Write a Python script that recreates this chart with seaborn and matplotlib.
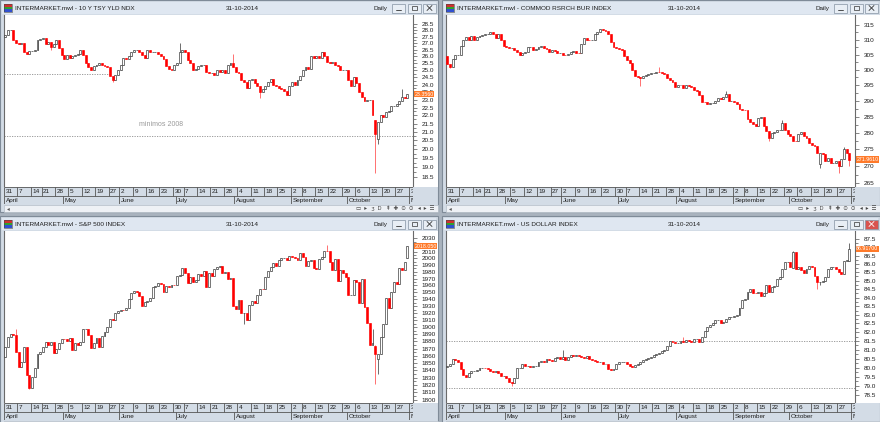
import numpy as np
import pandas as pd
import matplotlib
matplotlib.use("Agg")
import matplotlib.pyplot as plt
import matplotlib.transforms as mtrans
from matplotlib.patches import Rectangle
from matplotlib.ticker import FixedLocator, FixedFormatter, NullFormatter
import seaborn as sns

# ---------------------------------------------------------------- data
trading_start = "2014-03-31"
axis_end = "2014-11-03"
market_holidays = ["2014-04-18", "2014-05-26", "2014-07-04", "2014-09-01"]

week_labels = ["31", "7", "14", "21", "28", "5", "12", "19", "27", "2", "9", "16",
               "23", "30", "7", "14", "21", "28", "4", "11", "18", "25", "2", "8",
               "15", "22", "29", "6", "13", "20", "27", "3"]
month_labels = ["April", "May", "June", "July", "August", "September", "October", "N"]
chart_date = "31-10-2014"
period_label = "Daily"

# 10 Y TSY YLD NDX
tsy_title = "INTERMARKET.mwl - 10 Y TSY YLD NDX"
tsy_first_open = 27.45
tsy_close = [
    27.6, 28.0, 28.0, 27.24, 27.0, 26.95, 27.0, 26.35, 26.2, 26.4,
    26.4, 26.5, 27.24, 27.3, 27.4, 26.9, 27.1, 26.7, 26.9, 27.2,
    26.6, 26.1, 25.8, 26.1, 25.9, 26.0, 26.1, 26.2, 26.5, 26.1,
    25.5, 25.2, 25.0, 25.3, 25.4, 25.5, 25.4, 25.3, 25.2, 24.6,
    24.3, 24.7, 25.0, 25.4, 25.9, 25.8, 26.0,
    26.3, 26.5, 26.5, 26.3, 26.1, 25.9, 26.5, 26.3, 26.3, 26.3, 26.2, 26.0, 25.8, 25.3,
    25.1, 25.0, 25.4, 25.5, 26.3, 26.5, 26.3, 25.7, 25.5, 25.0, 25.1, 25.3, 25.4, 25.4,
    24.9, 24.8,
    24.8, 24.7, 25.0, 24.9, 25.0, 24.8, 25.4, 25.5, 25.2, 24.9, 24.8,
    24.3, 24.2, 23.8, 24.3,
    24.4, 24.1, 23.9, 23.5, 23.7, 23.9, 24.2, 24.4, 24.0, 23.9, 23.8, 23.7, 23.6, 23.3,
    23.9, 24.2, 24.0, 24.3, 24.6, 25.0, 25.2, 25.1, 26.0, 25.9, 26.0, 25.9, 26.3, 26.0,
    25.6, 25.5, 25.6, 25.4, 25.3, 25.0, 25.0, 25.0, 24.3, 23.9, 24.5, 24.1, 23.5, 23.2,
    22.9, 23.0, 23.0, 22.0, 20.9, 21.6, 22.0, 21.9, 22.2, 22.3, 22.6, 22.6, 22.7, 22.9,
    23.2, 23.1, 23.356]
tsy_open_fix = {138: 21.7, 139: 20.6}
tsy_high_fix = {65: 27.0, 85: 26.2, 137: 22.4, 148: 23.7}
tsy_low_fix = {17: 26.5, 40: 24.2, 95: 23.1, 138: 18.7, 139: 20.3}
tsy_ticks = [18.5, 19.0, 19.5, 20.0, 20.5, 21.0, 21.5, 22.0, 22.5, 23.0, 23.5, 24.0,
             24.5, 25.0, 25.5, 26.0, 26.5, 27.0, 27.5, 28.0, 28.5]
tsy_last = "23.3560"
tsy_note = "minimos 2008"
tsy_note_level = 20.74
tsy_old_level = 24.74

# COMMOD RSRCH BUR INDEX
crb_title = "INTERMARKET.mwl - COMMOD RSRCH BUR INDEX"
crb_first_open = 304.5
crb_close = [
    302, 301, 303.5, 305, 305, 308, 310, 311, 310, 311.3, 310, 311, 311.3, 311.5, 311.8,
    312, 312.5, 311.8, 310.7, 312, 310, 307.8, 307.5, 307.3, 307.3, 306.5, 305.8, 305,
    305.5, 306, 307.5, 307.7, 306.5, 307,
    307.5, 308, 307.3, 307, 306, 306.5, 306.3, 305.5, 305.6, 305, 304.9, 305.2, 305.8,
    306.2, 305.6, 305.5, 308.5, 310.5, 310, 309.8, 310, 312, 312.8, 313.5, 313.3,
    312.9, 312, 309.3, 307.5, 307.3, 306.8, 306.7, 304.5, 303.3, 302.3, 299.8, 297.8,
    297.7, 297.4, 297.9, 298.2, 298.7, 299, 299, 299.3, 299.2, 298.8, 298.5, 297.3,
    296.8, 296, 294.3, 294.9, 295, 294, 295, 294.8,
    294.5, 293.5, 293, 291.8, 289.7, 289.5, 289,
    289.2, 289.4, 290, 291, 290.6, 291.3, 292.3, 290, 290, 289.5, 289, 287.5, 287.2,
    287, 284.3, 283.2, 282.6, 282, 284.5, 284.8, 282, 280.5, 278.5, 280, 280.3, 281,
    281, 283, 280.8, 279.6, 279, 277.6, 277.4, 279.8, 280.3, 278.9, 278.3, 277, 276.3,
    276, 273.8, 274, 273.5, 271.5, 272.5, 271, 271, 271.5, 270, 272, 275, 274, 271.961]
crb_open_fix = {139: 270.5}
crb_high_fix = {79: 301, 104: 293, 125: 284, 138: 275.5, 148: 275.8, 150: 273}
crb_low_fix = {1: 300.5, 72: 294.8, 120: 277.5, 139: 269.5, 146: 268, 150: 270}
crb_ticks = [265, 270, 275, 280, 285, 290, 295, 300, 305, 310, 315]
crb_last = "271.9610"

# S&P 500 INDEX
spx_title = "INTERMARKET.mwl - S&P 500 INDEX"
spx_first_open = 1858.0
spx_close = [
    1872.3,
    1885.5, 1890.9, 1888.8, 1865.1, 1845.0, 1852.0, 1872.2, 1833.1, 1815.7, 1830.6,
    1843.0, 1862.3, 1864.9, 1871.9, 1879.6, 1875.4, 1878.6, 1863.4, 1869.4, 1878.3, 1884.0,
    1883.7, 1881.1, 1884.7, 1867.7, 1878.2, 1875.6, 1878.5, 1896.7, 1897.5, 1888.5,
    1870.9, 1877.9, 1885.1, 1872.8, 1888.0, 1892.5, 1900.5, 1911.9, 1909.8, 1920.0, 1923.6,
    1925.0, 1924.2, 1927.9, 1940.5, 1949.4, 1951.3, 1950.8, 1943.9, 1930.1, 1936.2,
    1937.8, 1942.0, 1957.0, 1959.5, 1962.9, 1962.6, 1950.0, 1959.5, 1957.2, 1961.0, 1960.2,
    1973.3, 1974.6, 1985.4, 1977.7, 1963.7, 1972.8, 1964.7, 1967.6, 1977.1, 1973.3,
    1981.6, 1958.1, 1978.2, 1973.6, 1983.5, 1987.0, 1988.0, 1978.3, 1978.9, 1970.0,
    1970.1, 1930.7,
    1925.2, 1939.0, 1920.2, 1920.2, 1909.6, 1931.6, 1936.9, 1933.8, 1946.7, 1955.2,
    1955.1, 1971.7, 1981.6, 1986.5, 1992.4, 1988.4, 1997.9, 2000.0, 2000.1, 1996.7, 2003.4,
    2002.3, 2000.7, 1997.7, 2007.7, 2001.5, 1988.4, 1995.7, 1997.5, 1985.5, 1984.1,
    1999.0, 2001.6, 2011.4, 2010.4, 1994.3, 1982.8, 1998.3, 1966.0, 1982.9, 1977.8, 1972.3,
    1946.2, 1946.2, 1967.9, 1964.8, 1935.1, 1968.9, 1928.2, 1906.1, 1874.7, 1877.7,
    1862.5, 1862.8, 1886.8, 1904.0, 1941.3, 1927.1, 1950.8, 1964.6, 1961.6, 1985.1,
    1982.3, 1994.7, 2018.05]
spx_open_fix = {138: 1874.0, 139: 1855.0, 150: 2001.0}
spx_high_fix = {4: 1897, 8: 1872.5, 120: 2019.3, 134: 1970, 137: 1898, 138: 1874.5, 150: 2018.7}
spx_low_fix = {9: 1814, 89: 1904, 138: 1820.7, 139: 1835}
spx_ticks = [1800, 1810, 1820, 1830, 1840, 1850, 1860, 1870, 1880, 1890, 1900, 1910,
             1920, 1930, 1940, 1950, 1960, 1970, 1980, 1990, 2000, 2010, 2020, 2030]
spx_last = "2018.050"

# US DOLLAR INDEX
usd_title = "INTERMARKET.mwl - US DOLLAR INDEX"
usd_first_open = 80.05
usd_close = [
    80.1, 80.2, 80.5, 80.4, 80.3, 79.9, 79.6, 79.45,
    79.7, 79.8, 79.8, 79.85, 79.95, 80.0, 79.95, 79.9, 79.8,
    79.75, 79.8, 79.7, 79.55, 79.55, 79.4, 79.2, 79.15,
    79.4, 80.0, 80.0, 80.2, 80.1, 80.1, 80.05, 80.1, 80.1,
    80.3, 80.35, 80.3, 80.5, 80.45, 80.35, 80.55, 80.6, 80.5,
    80.6, 80.45, 80.6, 80.7, 80.65, 80.7, 80.65, 80.6, 80.55, 80.65,
    80.5, 80.45, 80.35, 80.3, 80.3, 80.2, 80.2, 79.9, 79.85,
    79.9, 80.2, 80.3, 80.3, 80.3, 80.2, 80.1, 80.05, 80.15, 80.2,
    80.3, 80.45, 80.5, 80.55, 80.6, 80.7, 80.75, 80.8, 80.95, 81.0,
    81.2, 81.5, 81.45, 81.4, 81.4, 81.5, 81.45, 81.55, 81.5,
    81.45, 81.6, 81.6, 81.45, 81.7, 82.05, 82.3, 82.4, 82.5,
    82.7, 82.7, 82.55, 82.6, 82.75, 82.85, 82.9, 82.95, 83.0,
    83.4, 83.85, 83.9, 84.35, 84.5, 84.3, 84.25, 84.35, 84.1, 84.3,
    84.75, 84.35, 84.65, 84.7, 85.1, 85.2, 85.7, 86.1, 86.1, 85.8,
    86.7, 85.7, 85.8, 85.65, 85.45, 85.7, 85.9, 85.8, 85.3, 84.9,
    84.9, 85.0, 85.2, 85.7, 85.8, 85.8, 85.7, 85.5, 85.4, 86.15, 86.25, 86.917]
usd_open_fix = {129: 85.75, 150: 86.15}
usd_high_fix = {43: 81.0, 88: 81.7, 129: 86.8, 150: 87.25}
usd_low_fix = {24: 78.95, 138: 84.5, 139: 84.75}
usd_ticks = [78.5, 79.0, 79.5, 80.0, 80.5, 81.0, 81.5, 82.0, 82.5, 83.0, 83.5, 84.0,
             84.5, 85.0, 85.5, 86.0, 86.5, 87.0, 87.5]
usd_last = "86.91700"
usd_levels = [81.5, 78.85]

# ---------------------------------------------------------------- style
sns.set_theme(style="white")
plt.rcParams["font.family"] = ["Liberation Sans", "DejaVu Sans"]

W, H = 880, 422
fig = plt.figure(figsize=(W / 100, H / 100), dpi=100)
fig.patch.set_facecolor("#a9b3be")

bg = fig.add_axes([0, 0, 1, 1], zorder=-10)
bg.set_xlim(0, W)
bg.set_ylim(H, 0)
bg.axis("off")

def px_axes(x0, y0, w, h, **kw):
    return fig.add_axes([x0 / W, 1 - (y0 + h) / H, w / W, h / H], **kw)

days = pd.bdate_range(trading_start, axis_end)
days = days[~days.isin(pd.to_datetime(market_holidays))]
isow = days.isocalendar().week.values
week_pos = [0] + [i for i in range(1, len(days)) if isow[i] != isow[i - 1]]
month_pos = [i for i in range(1, len(days)) if days[i].month != days[i - 1].month]
XL = (-0.5, 152.1)

TXT = "#1e1e1e"
FS = 4.6


def draw_window(ox, oy, title, first_open, closes, open_fix, high_fix, low_fix,
                ylim, ticks, fmt, last_label, red_close=False):
    # window chrome
    bg.add_patch(Rectangle((ox, oy), 438, 212, fc="#d3dce6", ec="#7f8b98", lw=0.8))
    bg.add_patch(Rectangle((ox + 2, oy + 2), 434, 12, fc="#dfe7f1", ec="none"))
    bg.add_patch(Rectangle((ox + 4, oy + 15), 434, 172, fc="white", ec="none"))
    bg.add_patch(Rectangle((ox + 4, oy + 205), 434, 7, fc="#eef1f5", ec="#b5bec8", lw=0.5))
    # icon
    for k, colr in enumerate(["#d03030", "#30a030", "#3050d0"]):
        bg.add_patch(Rectangle((ox + 4, oy + 4 + k * 2.6), 8, 2.6, fc=colr, ec="none"))
    bg.add_patch(Rectangle((ox + 4, oy + 4), 8, 7.8, fc="none", ec="#444", lw=0.4))
    bg.text(ox + 15, oy + 8.2, title, fontsize=FS, color=TXT, va="center", ha="left")
    bg.text(ox + 242, oy + 8.2, chart_date, fontsize=FS, color=TXT, va="center", ha="center")
    bg.text(ox + 381, oy + 8.2, period_label, fontsize=FS, color=TXT, va="center", ha="center")
    for k, bx in enumerate([392, 408, 423]):
        face = "#d9534f" if (red_close and k == 2) else "#e8eef5"
        bg.add_patch(Rectangle((ox + bx, oy + 3.5), 13, 9, fc=face, ec="#8492a2", lw=0.5))
    bg.plot([ox + 396, ox + 401], [oy + 9.5, oy + 9.5], color="#333", lw=0.6)
    bg.add_patch(Rectangle((ox + 412, oy + 5.5), 5, 4.5, fc="none", ec="#333", lw=0.5))
    xc = "white" if red_close else "#333"
    bg.plot([ox + 427, ox + 432], [oy + 5.5, oy + 10.5], color=xc, lw=0.6)
    bg.plot([ox + 427, ox + 432], [oy + 10.5, oy + 5.5], color=xc, lw=0.6)
    if oy < 100:
        bg.text(ox + 7, oy + 208.5, "\u25c2", fontsize=4, color="#555", va="center")
        bg.text(ox + 434, oy + 208.5,
                "\u25ad  \u25b8   \u0292  D   \u21de  \u271a  \u2299  \u2299   \u25c2  \u25b8  \u2630",
                fontsize=4, color="#444", va="center", ha="right")

    # candles
    c = np.asarray(closes, dtype=float)
    n = len(c)
    o = np.empty(n)
    o[0] = first_open
    o[1:] = c[:-1]
    for k, v in open_fix.items():
        o[k] = v
    h = np.maximum(o, c)
    l = np.minimum(o, c)
    for k, v in high_fix.items():
        h[k] = max(h[k], v)
    for k, v in low_fix.items():
        l[k] = min(l[k], v)
    x = np.arange(n)
    up = c >= o

    ax = px_axes(ox + 4, oy + 15, 409, 171)
    ax.set_facecolor("white")
    ax.set_yscale("log")
    ax.vlines(x[up], l[up], h[up], colors="#555555", lw=0.6, zorder=2)
    ax.vlines(x[~up], l[~up], h[~up], colors="#ff5a5a", lw=0.6, zorder=2)
    ax.bar(x[up], (c - o)[up], bottom=o[up], width=0.72, facecolor="white",
           edgecolor="#2a2a2a", linewidth=0.45, zorder=3)
    ax.bar(x[~up], (o - c)[~up], bottom=c[~up], width=0.72, facecolor="#ff0000",
           edgecolor="#ff0000", linewidth=0.45, zorder=3)
    ax.set_xlim(*XL)
    ax.set_ylim(*ylim)
    ax.set_xticks([])
    ax.grid(False)
    for s in ["top", "bottom"]:
        ax.spines[s].set_visible(False)
    ax.spines["left"].set_color("#6a6a6a")
    ax.spines["left"].set_linewidth(0.8)
    ax.spines["right"].set_color("#6a6a6a")
    ax.spines["right"].set_linewidth(0.8)
    ax.yaxis.set_major_locator(FixedLocator(ticks))
    ax.yaxis.set_major_formatter(FixedFormatter([fmt.format(t) for t in ticks]))
    mids = [(a + b) / 2 for a, b in zip(ticks[:-1], ticks[1:])]
    ax.yaxis.set_minor_locator(FixedLocator(mids))
    ax.yaxis.set_minor_formatter(NullFormatter())
    ax.tick_params(axis="y", which="both", left=False, right=True, labelleft=False,
                   labelright=True, direction="out", color="#555555", width=0.5)
    ax.tick_params(axis="y", which="major", length=3, pad=3.2, labelsize=FS, labelcolor=TXT)
    ax.tick_params(axis="y", which="minor", length=1.8)
    # last price tag
    tr = mtrans.blended_transform_factory(ax.transAxes, ax.transData)
    ax.text(1.003, c[-1], last_label, transform=tr, fontsize=3.8, color="white",
            ha="left", va="center", clip_on=False, zorder=20,
            bbox=dict(boxstyle="square,pad=0.12", fc="#ff7a2a", ec="none"))

    # date axis
    axd = px_axes(ox + 4, oy + 187, 409, 17)
    axd.set_xlim(*XL)
    axd.set_ylim(0, 2)
    axd.axis("off")
    axd.hlines([0.02, 1.0, 1.98], XL[0], XL[1], colors="#555555", lw=0.6)
    for p, lab in zip(week_pos, week_labels):
        axd.vlines(p - 0.5, 1.0, 2.0, colors="#555555", lw=0.6)
        axd.text(p - 0.5 + 0.6, 1.47, lab, fontsize=FS, color=TXT, ha="left",
                 va="center", clip_on=True)
    axd.vlines(-0.45, 0, 1.0, colors="#555555", lw=0.6)
    for k, (p, lab) in enumerate(zip(month_pos, month_labels)):
        if k > 0:
            axd.vlines(p - 0.5, 0, 1.0, colors="#555555", lw=0.6)
        xt = 0.2 if k == 0 else p - 0.5 + 0.6
        axd.text(xt, 0.47, lab, fontsize=FS, color=TXT, ha="left",
                 va="center", clip_on=True)
    return ax


dot = dict(colors="#8e8e8e", lw=0.6, linestyles=(0, (1.5, 1.5)), zorder=1)

ax1 = draw_window(0, 0, tsy_title, tsy_first_open, tsy_close, tsy_open_fix,
                  tsy_high_fix, tsy_low_fix, (18.02, 29.23), tsy_ticks, "{:.1f}", tsy_last)
ax1.hlines(tsy_old_level, XL[0], 39, **dot)
ax1.hlines(tsy_note_level, XL[0], XL[1], **dot)
ax1.text(58, 21.46, tsy_note, fontsize=5, color="#9a9a9a", ha="center", va="center")

ax2 = draw_window(442, 0, crb_title, crb_first_open, crb_close, crb_open_fix,
                  crb_high_fix, crb_low_fix, (264.2, 318.5), crb_ticks, "{:d}", crb_last)

ax3 = draw_window(0, 216, spx_title, spx_first_open, spx_close, spx_open_fix,
                  spx_high_fix, spx_low_fix, (1797, 2041), spx_ticks, "{:d}", spx_last)

ax4 = draw_window(442, 216, usd_title, usd_first_open, usd_close, usd_open_fix,
                  usd_high_fix, usd_low_fix, (78.1, 88.0), usd_ticks, "{:.1f}", usd_last,
                  red_close=True)
ax4.hlines(usd_levels, XL[0], XL[1], **dot)

fig.savefig("out.png", dpi=100)
